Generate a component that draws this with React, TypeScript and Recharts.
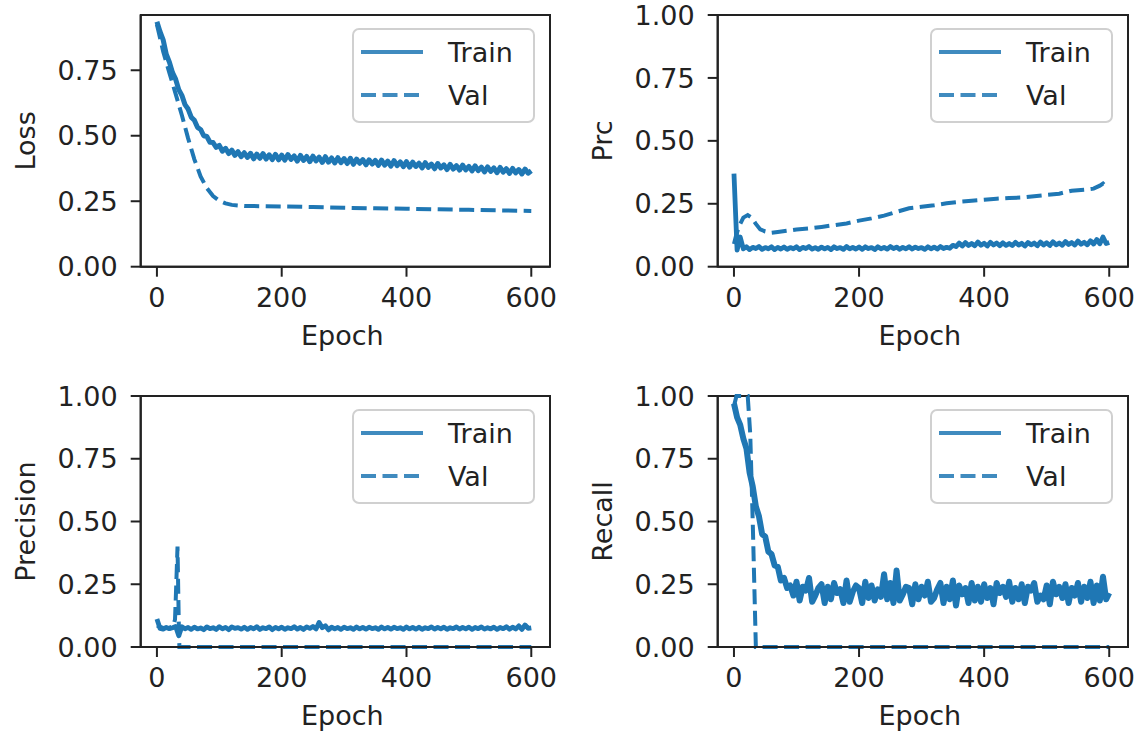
import React from "react"
import { LineChart, Line, XAxis, YAxis, Legend, ReferenceArea } from "recharts"

const BLUE = "#1f77b4"
const INK = "#222222"
const FONT = "'DejaVu Sans', sans-serif"
const FS = 27
const TRAIN_STEP = 5

const xTicks = [0, 200, 400, 600]
const yTicksLoss = [0, 0.25, 0.5, 0.75]
const yTicksUnit = [0, 0.25, 0.5, 0.75, 1]

// train series, one value every 5 epochs (0..600)
const lossTrain = [
  0.935, 0.897, 0.866, 0.811, 0.781, 0.741, 0.716, 0.676, 0.654, 0.619,
  0.602, 0.571, 0.559, 0.532, 0.524, 0.5, 0.497, 0.475, 0.474, 0.456,
  0.463, 0.441, 0.452, 0.432, 0.445, 0.425, 0.439, 0.42, 0.435, 0.417,
  0.433, 0.412, 0.43, 0.414, 0.432, 0.411, 0.427, 0.409, 0.429, 0.408,
  0.426, 0.407, 0.428, 0.41, 0.423, 0.403, 0.425, 0.406, 0.421, 0.401,
  0.422, 0.404, 0.418, 0.398, 0.42, 0.399, 0.415, 0.396, 0.416, 0.397,
  0.413, 0.394, 0.414, 0.391, 0.411, 0.395, 0.409, 0.389, 0.408, 0.392,
  0.406, 0.387, 0.407, 0.388, 0.403, 0.384, 0.405, 0.386, 0.4, 0.382,
  0.401, 0.38, 0.399, 0.383, 0.395, 0.377, 0.397, 0.379, 0.392, 0.374,
  0.394, 0.377, 0.389, 0.371, 0.391, 0.373, 0.386, 0.369, 0.388, 0.37,
  0.383, 0.366, 0.385, 0.367, 0.38, 0.362, 0.381, 0.364, 0.377, 0.359,
  0.379, 0.361, 0.374, 0.356, 0.375, 0.358, 0.371, 0.354, 0.373, 0.357,
  0.366,
]

const prcTrain = [
  0.37, 0.066, 0.118, 0.071, 0.079, 0.068, 0.077, 0.072, 0.08, 0.069,
  0.076, 0.071, 0.079, 0.068, 0.077, 0.07, 0.078, 0.069, 0.076, 0.071,
  0.079, 0.068, 0.077, 0.072, 0.08, 0.07, 0.076, 0.069, 0.078, 0.071,
  0.077, 0.068, 0.079, 0.072, 0.076, 0.069, 0.08, 0.071, 0.077, 0.07,
  0.078, 0.069, 0.079, 0.072, 0.076, 0.068, 0.079, 0.071, 0.077, 0.07,
  0.08, 0.072, 0.078, 0.069, 0.077, 0.071, 0.079, 0.07, 0.078, 0.072,
  0.076, 0.069, 0.079, 0.071, 0.078, 0.07, 0.08, 0.072, 0.077, 0.073,
  0.085, 0.08, 0.094, 0.082, 0.096, 0.084, 0.092, 0.083, 0.098, 0.085,
  0.093, 0.082, 0.097, 0.086, 0.094, 0.083, 0.095, 0.085, 0.092, 0.084,
  0.097, 0.086, 0.093, 0.082, 0.096, 0.087, 0.094, 0.083, 0.098, 0.086,
  0.095, 0.084, 0.099, 0.087, 0.094, 0.085, 0.1, 0.088, 0.096, 0.086,
  0.102, 0.089, 0.097, 0.087, 0.103, 0.09, 0.108, 0.091, 0.118, 0.092,
  0.096,
]

const precisionTrain = [
  0.112, 0.074, 0.071, 0.078, 0.073, 0.077, 0.082, 0.045, 0.081, 0.072,
  0.078, 0.07, 0.079, 0.072, 0.076, 0.069, 0.08, 0.073, 0.077, 0.07,
  0.081, 0.072, 0.078, 0.069, 0.08, 0.074, 0.077, 0.071, 0.079, 0.07,
  0.078, 0.072, 0.081, 0.07, 0.077, 0.073, 0.08, 0.069, 0.078, 0.072,
  0.079, 0.07, 0.077, 0.073, 0.081, 0.071, 0.078, 0.07, 0.08, 0.074,
  0.082, 0.072, 0.098, 0.077, 0.085, 0.068, 0.079, 0.072, 0.078, 0.07,
  0.079, 0.073, 0.077, 0.07, 0.08, 0.072, 0.078, 0.071, 0.079, 0.073,
  0.077, 0.07, 0.08, 0.072, 0.078, 0.071, 0.079, 0.073, 0.077, 0.07,
  0.08, 0.072, 0.078, 0.071, 0.079, 0.07, 0.077, 0.073, 0.08, 0.071,
  0.078, 0.072, 0.079, 0.07, 0.077, 0.073, 0.08, 0.071, 0.078, 0.072,
  0.079, 0.07, 0.078, 0.073, 0.08, 0.071, 0.077, 0.072, 0.079, 0.07,
  0.078, 0.073, 0.081, 0.071, 0.079, 0.072, 0.084, 0.07, 0.088, 0.074,
  0.076,
]

const recallTrain = [
  0.97, 0.915, 0.885, 0.83, 0.79, 0.695, 0.64, 0.56, 0.52, 0.45,
  0.44, 0.38, 0.37, 0.325, 0.32, 0.265, 0.275, 0.235, 0.245, 0.205,
  0.26, 0.185, 0.24, 0.225, 0.275, 0.18, 0.205, 0.235, 0.25, 0.175,
  0.24, 0.19, 0.255, 0.215, 0.23, 0.175, 0.265, 0.18, 0.22, 0.245,
  0.235, 0.175, 0.26, 0.195, 0.245, 0.185, 0.23, 0.2, 0.29, 0.19,
  0.255, 0.175, 0.305, 0.185, 0.21, 0.24, 0.235, 0.17, 0.25, 0.19,
  0.24, 0.205, 0.26, 0.18, 0.195, 0.23, 0.255, 0.175, 0.24, 0.19,
  0.265, 0.165, 0.245, 0.21, 0.235, 0.175, 0.255, 0.185, 0.24, 0.18,
  0.25, 0.195, 0.235, 0.17, 0.255, 0.215, 0.24, 0.2, 0.26, 0.18,
  0.235, 0.19, 0.25, 0.175, 0.24, 0.225, 0.255, 0.18, 0.205, 0.19,
  0.245, 0.17, 0.26, 0.21, 0.24, 0.195, 0.25, 0.175, 0.235, 0.205,
  0.255, 0.18, 0.24, 0.195, 0.26, 0.175, 0.245, 0.185, 0.28, 0.19,
  0.215,
]

// validation series (smooth, so sparser points)
const lossValEpochs = [0, 10, 20, 30, 40, 50, 60, 70, 80, 90, 100, 110, 120, 140, 170, 200, 250, 300, 350, 400, 450, 500, 550, 600]
const lossVal = [0.925, 0.822, 0.74, 0.66, 0.578, 0.49, 0.41, 0.345, 0.3, 0.27, 0.252, 0.242, 0.236, 0.232, 0.231, 0.23, 0.228, 0.225, 0.223, 0.221, 0.219, 0.217, 0.215, 0.213]

const prcValEpochs = [
  0, 3, 8, 15, 22, 28, 35, 42, 50, 60, 70, 85, 100, 120, 140, 160, 180, 200, 220, 240,
  260, 280, 300, 320, 340, 360, 380, 400, 420, 440, 460, 480, 500, 520, 540, 560, 575, 585, 590, 595, 600,
]
const prcVal = [
  0.09, 0.12, 0.16, 0.195, 0.205, 0.195, 0.17, 0.148, 0.14, 0.135, 0.138, 0.143, 0.148, 0.152, 0.158, 0.165, 0.172, 0.183, 0.192, 0.203,
  0.218, 0.232, 0.238, 0.244, 0.252, 0.258, 0.262, 0.266, 0.27, 0.273, 0.275, 0.28, 0.285, 0.29, 0.302, 0.306, 0.31, 0.322, 0.33, 0.318, 0.312,
]

const precisionValEpochs = [0, 10, 20, 26, 29, 31, 33, 35, 36, 600]
const precisionVal = [0.085, 0.076, 0.077, 0.082, 0.11, 0.25, 0.4, 0.1, 0, 0]

const recallValEpochs = [0, 4, 22, 26, 30, 33, 35, 600]
const recallVal = [0.96, 1, 1, 0.85, 0.5, 0.2, 0, 0]

type Point = { epoch: number; value: number }

const toPoints = (epochs: number[], values: number[]): Point[] =>
  epochs.map((e, i) => ({ epoch: e, value: values[i] }))

const trainPoints = (values: number[]) => toPoints(values.map((_, i) => i * TRAIN_STEP), values)

const X_DOMAIN: [number, number] = [-26, 630]
const Y_AXIS_W = 140.7
const LEG_W = 183
const LEG_H = 95

function LegendBox() {
  return (
    <svg width={LEG_W} height={LEG_H} style={{ display: "block" }}>
      <rect x={1} y={1} width={LEG_W - 2} height={LEG_H - 2} rx={6} fill="#fff" fillOpacity={0.8} stroke="#d0d0d0" strokeWidth={2} />
      <line x1={9} x2={71} y1={24} y2={24} stroke={BLUE} strokeOpacity={0.85} strokeWidth={4} />
      <line x1={9} x2={71} y1={67} y2={67} stroke={BLUE} strokeOpacity={0.85} strokeWidth={4} strokeDasharray="15 6.5" />
      <text x={96} y={34} fontFamily={FONT} fontSize={FS} fill={INK}>Train</text>
      <text x={96} y={77} fontFamily={FONT} fontSize={FS} fill={INK}>Val</text>
    </svg>
  )
}

interface PanelProps {
  left: number
  top: number
  width: number
  height: number
  marginTop: number
  marginRight: number
  xAxisHeight: number
  yLabel: string
  yMax: number
  yTicks: number[]
  train: Point[]
  val: Point[]
  trainWidth: number
}

function Panel(p: PanelProps) {
  const plotBottom = p.height - p.xAxisHeight
  const plotRight = p.width - p.marginRight
  const yMid = (p.marginTop + plotBottom) / 2
  const xMid = (Y_AXIS_W + plotRight) / 2

  const yTitle = () => (
    <text x={35} y={yMid} transform={`rotate(-90 35 ${yMid})`} textAnchor="middle" fontFamily={FONT} fontSize={FS} fill={INK}>
      {p.yLabel}
    </text>
  )
  const xTitle = () => (
    <text x={xMid - 3} y={plotBottom + 78} textAnchor="middle" fontFamily={FONT} fontSize={FS} fill={INK}>
      Epoch
    </text>
  )

  return (
    <div style={{ position: "absolute", left: p.left, top: p.top }}>
      <LineChart width={p.width} height={p.height} margin={{ top: p.marginTop, right: p.marginRight, bottom: 0, left: 0 }}>
        <XAxis
          type="number"
          dataKey="epoch"
          domain={X_DOMAIN}
          ticks={xTicks}
          interval={0}
          height={p.xAxisHeight}
          tickSize={10}
          tickMargin={11}
          axisLine={{ stroke: INK, strokeWidth: 2 }}
          tickLine={{ stroke: INK, strokeWidth: 2 }}
          tick={{ fontSize: FS, fill: INK, fontFamily: FONT }}
          label={xTitle}
        />
        <YAxis
          type="number"
          domain={[0, p.yMax]}
          ticks={p.yTicks}
          interval={0}
          width={Y_AXIS_W}
          tickSize={10}
          tickMargin={13}
          tickFormatter={(v: number) => v.toFixed(2)}
          axisLine={{ stroke: INK, strokeWidth: 2 }}
          tickLine={{ stroke: INK, strokeWidth: 2 }}
          tick={{ fontSize: FS, fill: INK, fontFamily: FONT }}
          label={yTitle}
        />
        <ReferenceArea x1={X_DOMAIN[0]} x2={X_DOMAIN[1]} y1={0} y2={p.yMax} fill="none" stroke={INK} strokeWidth={2} />
        <Line
          data={p.train}
          dataKey="value"
          name="Train"
          stroke={BLUE}
          strokeWidth={p.trainWidth}
          strokeLinejoin="round"
          dot={false}
          isAnimationActive={false}
        />
        <Line
          data={p.val}
          dataKey="value"
          name="Val"
          stroke={BLUE}
          strokeWidth={4}
          strokeDasharray="15 6.5"
          dot={false}
          isAnimationActive={false}
        />
        <Legend
          layout="horizontal"
          verticalAlign="middle"
          align="center"
          content={() => <LegendBox />}
          wrapperStyle={{ position: "absolute", left: plotRight - 15 - LEG_W, top: p.marginTop + 13, width: LEG_W, height: LEG_H }}
        />
      </LineChart>
    </div>
  )
}

export default function App() {
  return (
    <div style={{ position: "absolute", left: 0, top: 0, width: 1141, height: 733, background: "#fff" }}>
      <Panel
        left={0} top={0} width={570} height={366} marginTop={15} marginRight={20} xAxisHeight={99.3}
        yLabel="Loss" yMax={0.961} yTicks={yTicksLoss} trainWidth={5}
        train={trainPoints(lossTrain)} val={toPoints(lossValEpochs, lossVal)}
      />
      <Panel
        left={577} top={0} width={564} height={366} marginTop={15} marginRight={13} xAxisHeight={99.3}
        yLabel="Prc" yMax={1} yTicks={yTicksUnit} trainWidth={4.8}
        train={trainPoints(prcTrain)} val={toPoints(prcValEpochs, prcVal)}
      />
      <Panel
        left={0} top={366} width={570} height={367} marginTop={30} marginRight={20} xAxisHeight={86}
        yLabel="Precision" yMax={1} yTicks={yTicksUnit} trainWidth={4.8}
        train={trainPoints(precisionTrain)} val={toPoints(precisionValEpochs, precisionVal)}
      />
      <Panel
        left={577} top={366} width={564} height={367} marginTop={30} marginRight={13} xAxisHeight={86}
        yLabel="Recall" yMax={1} yTicks={yTicksUnit} trainWidth={6}
        train={trainPoints(recallTrain)} val={toPoints(recallValEpochs, recallVal)}
      />
    </div>
  )
}
